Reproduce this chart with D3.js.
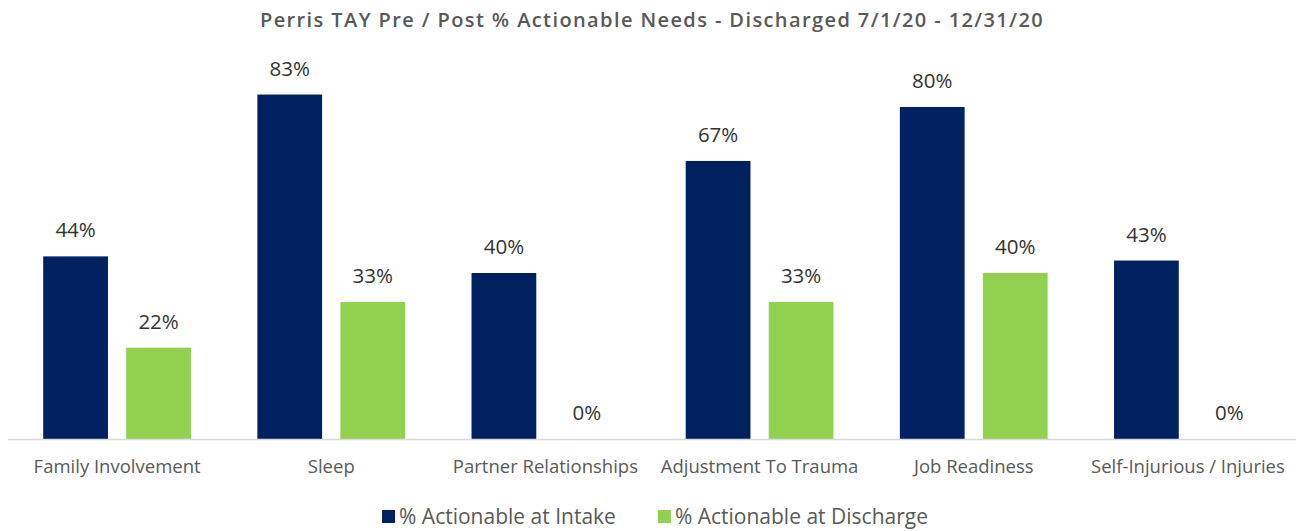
<!DOCTYPE html>
<html>
<head>
<meta charset="utf-8">
<script src="https://cdn.jsdelivr.net/npm/d3@7"></script>
<style>
  html, body { margin: 0; padding: 0; background: #fff; }
  svg { display: block; font-family: "Open Sans", "Noto Sans", sans-serif; }
</style>
</head>
<body>
<svg id="chart" width="1304" height="531"></svg>
<script>
const title = 'Perris TAY Pre / Post % Actionable Needs - Discharged 7/1/20 - 12/31/20'
const categories = ['Family Involvement', 'Sleep', 'Partner Relationships', 'Adjustment To Trauma', 'Job Readiness', 'Self-Injurious / Injuries']
const seriesNames = ['% Actionable at Intake', '% Actionable at Discharge']
const intake = [0.44, 0.83, 0.40, 0.67, 0.80, 0.43]
const discharge = [0.22, 0.33, 0, 0.33, 0.40, 0]

const conf = {
  width: 1304,
  height: 531,
  left: 10,
  right: 1295,
  baseline: 439,
  top: 24,
  colors: ['#002060', '#92D050']
}

const svg = d3.select('#chart')

const rows = categories.map((c, i) => ({ category: c, values: [intake[i], discharge[i]] }))

const x0 = d3.scaleBand()
  .domain(categories)
  .range([conf.left, conf.right])
  .padding(0)

const x1 = d3.scaleBand()
  .domain(seriesNames)
  .range([0, x0.bandwidth()])
  .paddingInner(0.22)
  .paddingOuter(0.4)

const y = d3.scaleLinear()
  .domain([0, 1])
  .range([conf.baseline, conf.top])

// title
svg.append('text')
  .attr('x', conf.width / 2)
  .attr('y', 27)
  .attr('text-anchor', 'middle')
  .attr('font-size', 20)
  .attr('font-weight', 600)
  .attr('letter-spacing', 1.4)
  .attr('fill', '#595959')
  .text(title)

// bars
const groups = svg.append('g')
  .selectAll('g')
  .data(rows)
  .join('g')
  .attr('transform', d => `translate(${x0(d.category)},0)`)

groups.selectAll('rect')
  .data(d => d.values.map((v, i) => ({ key: seriesNames[i], value: v, i })))
  .join('rect')
  .attr('x', d => x1(d.key))
  .attr('y', d => y(d.value))
  .attr('width', x1.bandwidth())
  .attr('height', d => conf.baseline - y(d.value))
  .attr('fill', d => conf.colors[d.i])

// data labels
groups.selectAll('text')
  .data(d => d.values.map((v, i) => ({ key: seriesNames[i], value: v })))
  .join('text')
  .attr('x', d => x1(d.key) + x1.bandwidth() / 2)
  .attr('y', d => y(d.value) - 19)
  .attr('text-anchor', 'middle')
  .attr('font-size', 20.5)
  .attr('fill', '#333333')
  .text(d => d3.format('.0%')(d.value))

// x axis
const xAxis = svg.append('g')
  .attr('transform', `translate(0,${conf.baseline + 0.5})`)
  .call(d3.axisBottom(x0).tickSize(0).tickPadding(0))

xAxis.select('.domain')
  .attr('d', `M${conf.left - 2},0H${conf.right + 1}`)
  .attr('stroke', '#d9d9d9')
  .attr('stroke-width', 1.5)

xAxis.selectAll('.tick text')
  .attr('y', 33.5)
  .attr('dy', null)
  .attr('font-family', '"Open Sans", "Noto Sans", sans-serif')
  .attr('font-size', 18.5)
  .attr('fill', '#595959')

// legend
const legend = svg.append('g')
const items = legend.selectAll('g')
  .data(seriesNames)
  .join('g')

items.append('rect')
  .attr('width', 13)
  .attr('height', 13)
  .attr('y', 510)
  .attr('fill', (d, i) => conf.colors[i])

items.append('text')
  .attr('x', 17)
  .attr('y', 523.5)
  .attr('font-size', 21)
  .attr('fill', '#595959')
  .text(d => d)

const legendGap = 42
const widths = []
items.each(function () { widths.push(this.getBBox().width) })
const totalWidth = d3.sum(widths) + legendGap * (widths.length - 1)
let cursor = conf.width / 2 + 3 - totalWidth / 2
items.attr('transform', (d, i) => {
  const t = `translate(${cursor},0)`
  cursor += widths[i] + legendGap
  return t
})
</script>
</body>
</html>
